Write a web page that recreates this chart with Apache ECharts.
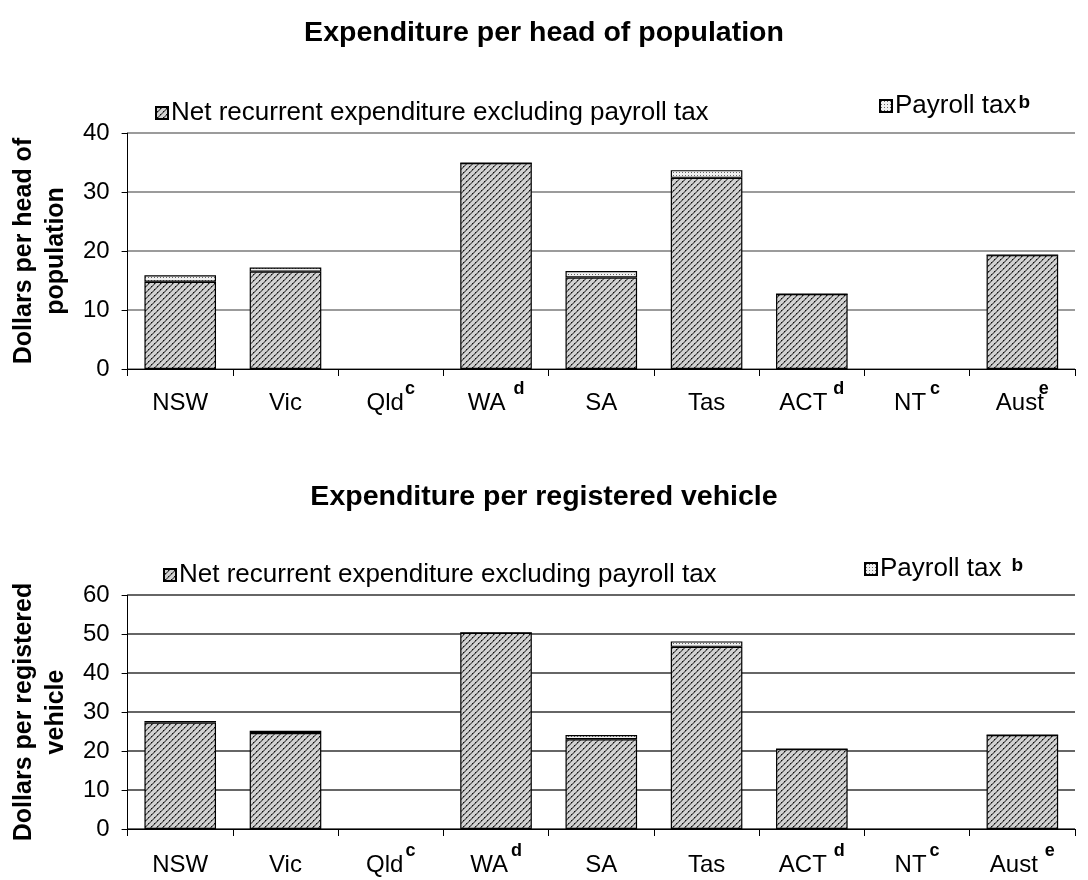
<!DOCTYPE html>
<html>
<head>
<meta charset="utf-8">
<script src="https://cdn.jsdelivr.net/npm/echarts@6/dist/echarts.min.js"></script>
<style>
  html, body { margin: 0; padding: 0; background: #fff; }
  #chart { width: 1088px; height: 880px; }
</style>
</head>
<body>
<div id="chart"></div>
<script>
// Jurisdictions and their footnote markers
const categories = ['NSW', 'Vic', 'Qld', 'WA', 'SA', 'Tas', 'ACT', 'NT', 'Aust'];
const footnotes  = ['', '', 'c', 'd', '', '', 'd', 'c', 'e'];

// Expenditure per head of population ($)
const perHeadNet     = [14.8, 16.5, null, 34.9, 15.5, 32.4, 12.7, null, 19.3];
const perHeadPayroll = [1.1, 0.7, null, 0, 1.1, 1.3, 0, null, 0];

// Expenditure per registered vehicle ($)
const perVehicleNet     = [27.3, 24.6, null, 50.3, 23.0, 46.7, 20.5, null, 24.1];
const perVehiclePayroll = [0.4, 0.6, null, 0, 1.1, 1.4, 0, null, 0];

const netName = 'Net recurrent expenditure excluding payroll tax';
const payName = 'Payroll tax';

// Fill tiles: diagonal hatch with dots, and light dot screen
function hatchTile() {
  const c = document.createElement('canvas');
  c.width = 6; c.height = 6;
  const g = c.getContext('2d');
  g.fillStyle = '#d2d2d2'; g.fillRect(0, 0, 6, 6);
  g.fillStyle = '#707070';
  for (let i = 0; i < 6; i++) {
    g.fillRect((i + 0) % 6, 5 - i, 1, 1);
    g.fillRect((i + 1) % 6, 5 - i, 1, 1);
  }
  g.fillStyle = '#111';
  g.fillRect(4, 1, 1, 1);
  g.fillRect(1, 4, 1, 1);
  return c;
}
function dotTile() {
  const c = document.createElement('canvas');
  c.width = 3; c.height = 3;
  const g = c.getContext('2d');
  g.fillStyle = '#f0f0f0'; g.fillRect(0, 0, 3, 3);
  g.fillStyle = '#666';
  g.fillRect(1, 1, 1, 1);
  return c;
}
const netFill = { image: hatchTile(), repeat: 'repeat' };
const payFill = { image: dotTile(), repeat: 'repeat' };

const font = 'Liberation Sans, Arial, sans-serif';

// Superscript token: left gap, and a line height that sets how high it sits
function sup(gap, lh) {
  return { fontSize: 18, fontWeight: 'bold', verticalAlign: 'top', lineHeight: lh,
           fontFamily: font, color: '#000', padding: [0, 0, 0, gap] };
}
const labelRich = {
  base: { fontSize: 24, fontFamily: font, color: '#000', lineHeight: 46, verticalAlign: 'middle' },
  t2: sup(1, 22),  t3: sup(8, 12),  t6: sup(6, 12),  t7: sup(4, 22),  t8: sup(-5, 12),
  b2: sup(2, 22),  b3: sup(3, 22),  b6: sup(7, 22),  b7: sup(3, 22),  b8: sup(7, 6)
};
const legendRich = {
  lg:    { fontSize: 26, fontFamily: font, color: '#000' },
  lsup:  { fontSize: 19, fontWeight: 'bold', verticalAlign: 'top', fontFamily: font, color: '#000', padding: [0, 0, 0, 2] },
  lsupS: { fontSize: 19, fontWeight: 'bold', verticalAlign: 'top', fontFamily: font, color: '#000', padding: [0, 0, 0, 10] }
};

function catLabeller(prefix) {
  return function (value, idx) {
    const n = footnotes[idx];
    return n ? '{base|' + value + '}{' + prefix + idx + '|' + n + '}' : '{base|' + value + '}';
  };
}

function xAxis(gridIndex, prefix, margin) {
  return {
    type: 'category', gridIndex, data: categories,
    axisLine: { show: true, lineStyle: { color: '#000', width: 1 } },
    axisTick: { show: true, interval: 0, length: 7, lineStyle: { color: '#000' } },
    axisLabel: { interval: 0, margin, formatter: catLabeller(prefix), rich: labelRich }
  };
}
function yAxis(gridIndex, max, interval, name, gridColor) {
  return {
    type: 'value', gridIndex, min: 0, max, interval,
    name, nameLocation: 'middle', nameGap: 44, nameRotate: 90,
    nameTextStyle: { fontSize: 25, fontWeight: 'bold', fontFamily: font, color: '#000', lineHeight: 32 },
    axisLine: { show: true, lineStyle: { color: '#000' } },
    axisTick: { show: true, inside: false, length: 6, lineStyle: { color: '#000' } },
    axisLabel: { fontSize: 24, fontFamily: font, color: '#000', margin: 18 },
    splitLine: { show: true, lineStyle: { color: gridColor, width: 1.5 } }
  };
}
function bars(name, data, fill, axisIndex, stack) {
  return {
    name, type: 'bar', stack, data,
    xAxisIndex: axisIndex, yAxisIndex: axisIndex,
    barWidth: '68%',
    itemStyle: { color: fill, borderColor: '#000', borderWidth: 1.2 },
    emphasis: { disabled: true }
  };
}
function legend(name, left, top, supStyle, supText) {
  return {
    data: [name], left, top, itemWidth: 12, itemHeight: 12, itemGap: 0,
    icon: 'rect',
    textStyle: { fontSize: 26, fontFamily: font, color: '#000', padding: [0, 0, 0, -2], rich: legendRich },
    formatter: supStyle ? (n) => '{lg|' + n + '}{' + supStyle + '|' + supText + '}' : (n) => '{lg|' + n + '}'
  };
}

const chart = echarts.init(document.getElementById('chart'), null, { renderer: 'canvas' });
chart.setOption({
  backgroundColor: '#fff',
  animation: false,
  title: [
    { text: 'Expenditure per head of population', left: 'center', top: 14,
      textStyle: { fontSize: 28.5, fontWeight: 'bold', fontFamily: font, color: '#000' } },
    { text: 'Expenditure per registered vehicle', left: 'center', top: 478,
      textStyle: { fontSize: 28.5, fontWeight: 'bold', fontFamily: font, color: '#000' } }
  ],
  legend: [
    legend(netName, 150, 95, null),
    legend(payName, 874, 88, 'lsup', 'b'),
    legend(netName, 158, 557, null),
    legend(payName, 859, 551, 'lsupS', 'b')
  ],
  grid: [
    { left: 127, right: 13, top: 133, height: 236 },
    { left: 127, right: 13, top: 595, height: 234 }
  ],
  xAxis: [xAxis(0, 't', 11), xAxis(1, 'b', 13)],
  yAxis: [
    yAxis(0, 40, 10, 'Dollars per head of\npopulation', '#7a7a7a'),
    yAxis(1, 60, 10, 'Dollars per registered\nvehicle', '#333')
  ],
  series: [
    bars(netName, perHeadNet, netFill, 0, 'head'),
    bars(payName, perHeadPayroll, payFill, 0, 'head'),
    bars(netName, perVehicleNet, netFill, 1, 'veh'),
    bars(payName, perVehiclePayroll, payFill, 1, 'veh')
  ]
});
</script>
</body>
</html>
